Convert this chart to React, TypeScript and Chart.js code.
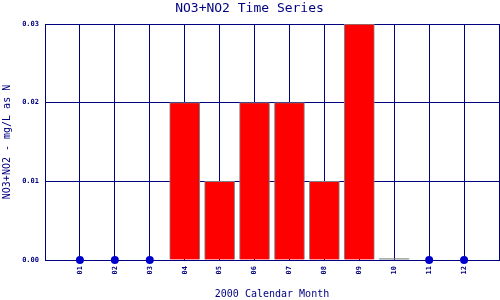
import React, { useEffect, useRef } from "react";
import { Chart, registerables } from "chart.js";

Chart.register(...registerables);

const months = ["01", "02", "03", "04", "05", "06", "07", "08", "09", "10", "11", "12"];
const values: (number | null)[] = [null, null, null, 0.02, 0.01, 0.02, 0.02, 0.01, 0.03, 0, null, null];
const yTicks = [0, 0.01, 0.02, 0.03];

const NAVY = "#000080";
const FONT = "'DejaVu Sans Mono', 'Liberation Mono', monospace";

export default function App() {
  const ref = useRef<HTMLCanvasElement | null>(null);

  useEffect(() => {
    document.body.style.margin = "0";
    const canvas = ref.current;
    if (!canvas) return;

    const barData = values
      .map((v, i) => (v === null ? null : { x: i + 1, y: v }))
      .filter((d) => d !== null) as { x: number; y: number }[];
    const dotData = values
      .map((v, i) => (v === null ? { x: i + 1, y: 0 } : null))
      .filter((d) => d !== null) as { x: number; y: number }[];

    const chart = new Chart(canvas, {
      type: "bar",
      data: {
        datasets: [
          {
            type: "scatter",
            data: dotData,
            pointRadius: 4,
            pointHoverRadius: 4,
            backgroundColor: "#0000cc",
            borderWidth: 0,
            clip: false,
          } as any,
          {
            type: "bar",
            data: barData,
            barThickness: 30,
            minBarLength: 1.5,
            backgroundColor: barData.map((d) => (d.y === 0 ? "#808080" : "#ff0000")),
            borderColor: "#808080",
            borderWidth: 1,
          },
        ],
      },
      options: {
        animation: false,
        responsive: false,
        maintainAspectRatio: false,
        layout: { autoPadding: false, padding: { right: 1, left: 0, top: 0, bottom: 0 } },
        plugins: {
          legend: { display: false },
          tooltip: { enabled: false },
          title: {
            display: true,
            text: "NO3+NO2 Time Series",
            color: NAVY,
            font: { family: FONT, size: 13, weight: "normal" },
            padding: { top: 1, bottom: 7.4 },
          },
        },
        scales: {
          x: {
            type: "linear",
            min: 0,
            max: 13,
            offset: false,
            afterFit: (s: any) => {
              s.height = 40;
              s.paddingLeft = 0;
              s.paddingRight = 0;
            },
            afterBuildTicks: (s: any) => {
              s.ticks = Array.from({ length: 14 }, (_, i) => ({ value: i }));
            },
            ticks: {
              autoSkip: false,
              minRotation: 90,
              maxRotation: 90,
              padding: 6,
              color: NAVY,
              font: { family: FONT, size: 7, weight: "bold" },
              callback: (v: any) => (v >= 1 && v <= 12 ? months[v - 1] : ""),
            },
            grid: { color: NAVY, lineWidth: 1, drawTicks: false, tickLength: 0, offset: false },
            border: { color: NAVY, width: 1 },
            title: {
              display: true,
              text: "2000 Calendar Month",
              color: NAVY,
              font: { family: FONT, size: 10, weight: "normal" },
              padding: { top: 0, bottom: 0 },
            },
          },
          y: {
            type: "linear",
            min: 0,
            max: 0.03,
            afterFit: (s: any) => {
              s.width = 45;
              s.paddingTop = 0;
              s.paddingBottom = 0;
            },
            afterBuildTicks: (s: any) => {
              s.ticks = yTicks.map((v) => ({ value: v }));
            },
            ticks: {
              padding: 6,
              color: NAVY,
              font: { family: FONT, size: 7, weight: "bold" },
              callback: (v: any) => Number(v).toFixed(2),
            },
            grid: { color: NAVY, lineWidth: 1, drawTicks: false, tickLength: 0 },
            border: { color: NAVY, width: 1 },
            title: {
              display: true,
              text: "NO3+NO2 - mg/L as N",
              color: NAVY,
              font: { family: FONT, size: 10, weight: "normal" },
              padding: { top: 1.5, bottom: 0 },
            },
          },
        },
      },
    } as any);

    return () => chart.destroy();
  }, []);

  return (
    <div style={{ width: 500, height: 300 }}>
      <canvas ref={ref} width={500} height={300} style={{ display: "block" }} />
    </div>
  );
}
